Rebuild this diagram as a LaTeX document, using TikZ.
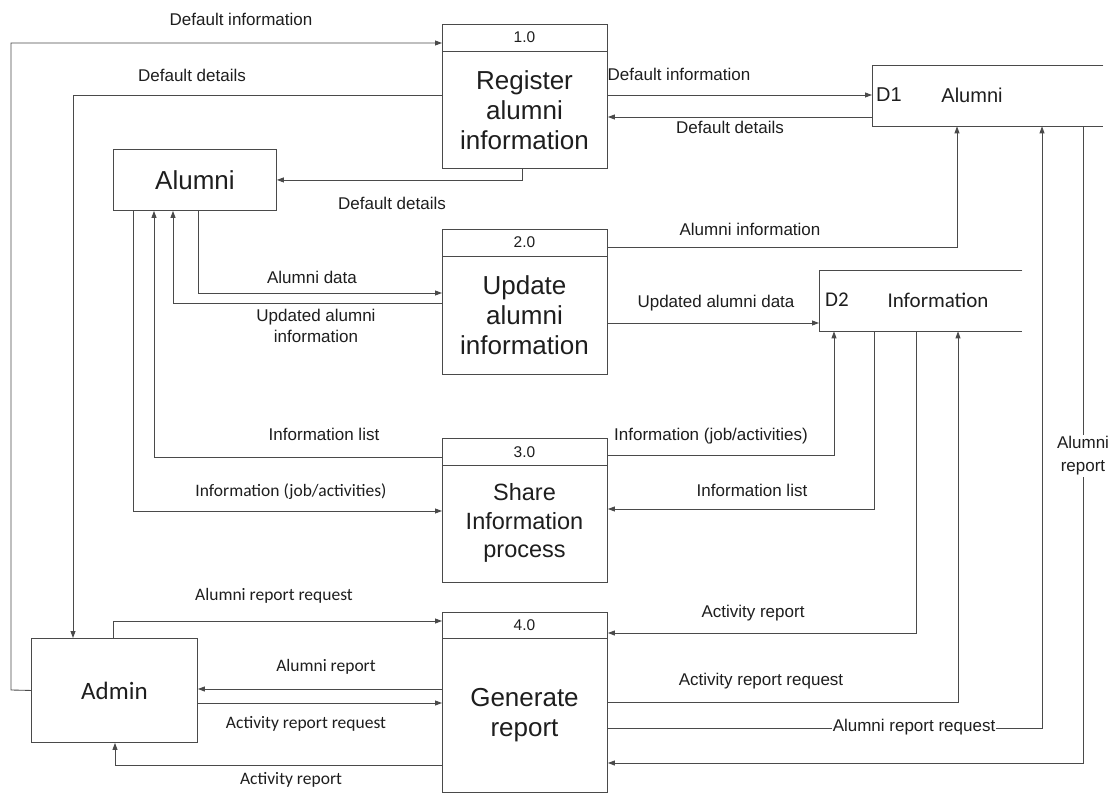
\documentclass[tikz,border=0pt]{standalone}
\usepackage{fontspec}
\setmainfont{Liberation Sans}
\newfontfamily\calfont{Carlito}
\usetikzlibrary{arrows.meta}
\definecolor{lc}{HTML}{4A4A4A}
\definecolor{tc}{HTML}{1E1E1E}
\begin{document}
\begin{tikzpicture}[x=1pt,y=-1pt,
  box/.style={draw=lc, line width=0.9pt, inner sep=0pt, anchor=north west},
  ghost/.style={inner sep=0pt, anchor=north west},
  flow/.style={draw=lc, line width=0.85pt, -{Triangle[length=7pt,width=5pt]}},
  plain/.style={draw=lc, line width=0.85pt},
  lab/.style={font=\fontsize{17}{20}\selectfont, text=tc, inner sep=0pt},
  clab/.style={font=\calfont\fontsize{17.5}{20}\selectfont, text=tc, inner sep=0pt},
  ptxt/.style={font=\fontsize{26}{30}\selectfont, align=center, text=tc, inner sep=0pt},
  num/.style={font=\fontsize{15.5}{18}\selectfont, text=tc, inner sep=0pt},
  store/.style={font=\fontsize{20}{24}\selectfont, text=tc, inner sep=0pt},
  cstore/.style={font=\calfont\fontsize{21}{24}\selectfont, text=tc, inner sep=0pt}]
\useasboundingbox[fill=white] (0,0) rectangle (1113,794);

% ---- processes
\node[box, minimum width=165pt, minimum height=144pt] (p1) at (442,24) {};
\node[box, minimum width=165pt, minimum height=145pt] (p2) at (442,229) {};
\node[box, minimum width=165pt, minimum height=144pt] (p3) at (442,438) {};
\node[box, minimum width=165pt, minimum height=180pt] (p4) at (442,612) {};
\draw[plain] (p1.west |- 0,51) -- (p1.east |- 0,51);
\draw[plain] (p2.west |- 0,256) -- (p2.east |- 0,256);
\draw[plain] (p3.west |- 0,465) -- (p3.east |- 0,465);
\draw[plain] (p4.west |- 0,638) -- (p4.east |- 0,638);
\node[num] (n1) at (524.5,37) {1.0};
\node[num] (n2) at (524.5,242) {2.0};
\node[num] (n3) at (524.5,452) {3.0};
\node[num] (n4) at (524.5,625) {4.0};
\node[ptxt] (t1) at (524.5,110) {Register\\alumni\\information};
\node[ptxt] (t2) at (524.5,315) {Update\\alumni\\information};
\node[ptxt, font=\fontsize{23.5}{28.5}\selectfont] (t3) at (524.5,523) {Share\\Information\\process};
\node[ptxt] (t4) at (524.5,715) {Generate\\report};

% ---- external entities
\node[box, minimum width=163pt, minimum height=61pt] (alumni) at (113,149) {};
\node[font=\fontsize{26}{30}\selectfont, text=tc] (alumnit) at (alumni.center) {Alumni};
\node[box, minimum width=166pt, minimum height=104pt] (admin) at (31,638) {};
\node[font=\calfont\fontsize{25}{28}\selectfont, text=tc] (admint) at (admin.center) {Admin};

% ---- data stores
\node[ghost, minimum width=231pt, minimum height=61pt] (d1) at (872,65) {};
\draw[plain] (d1.north east) -- (d1.north west) -- (d1.south west) -- (d1.south east);
\node[store] (d1a) at (889,95) {D1};
\node[store] (d1b) at (972,95) {Alumni};
\node[ghost, minimum width=203pt, minimum height=61pt] (d2) at (819,270) {};
\draw[plain] (d2.north east) -- (d2.north west) -- (d2.south west) -- (d2.south east);
\node[cstore] (d2a) at (837,300) {D2};
\node[cstore] (d2b) at (938,300) {Information};

% ---- flows around process 1.0
\draw[flow] (admin.west) -- (11,690) |- (p1.west |- 0,43);
\draw[flow] (p1.west |- 0,95) -| (admin.north -| 73,0);
\draw[flow] (p1.south -| 522,0) |- (alumni.east);
\draw[flow] (p1.east |- 0,95) -- (d1.west |- 0,95);
\draw[flow] (d1.west |- 0,117) -- (p1.east |- 0,117);

% ---- flows around process 2.0
\draw[flow] (alumni.south -| 198,0) |- (p2.west |- 0,293);
\draw[flow] (p2.west |- 0,303) -| (alumni.south -| 173,0);
\draw[flow] (p2.east |- 0,247) -| (d1.south -| 957,0);
\draw[flow] (p2.east |- 0,323) -- (d2.west |- 0,323);

% ---- flows around process 3.0
\draw[flow] (p3.west |- 0,457) -| (alumni.south -| 154,0);
\draw[flow] (alumni.south -| 133,0) |- (p3.west |- 0,511);
\draw[flow] (p3.east |- 0,455) -| (d2.south -| 834,0);
\draw[flow] (d2.south -| 874,0) |- (p3.east |- 0,509);

% ---- flows around process 4.0
\draw[flow] (admin.north -| 113,0) |- (p4.west |- 0,621);
\draw[flow] (p4.west |- 0,689) -- (admin.east |- 0,689);
\draw[flow] (admin.east |- 0,703) -- (p4.west |- 0,703);
\draw[flow] (p4.west |- 0,765) -| (admin.south -| 115,0);
\draw[flow] (d2.south -| 916,0) |- (p4.east |- 0,633);
\draw[flow] (p4.east |- 0,702) -| (d2.south -| 958,0);
\draw[flow] (p4.east |- 0,728) -| (d1.south -| 1042,0);
\draw[flow] (d1.south -| 1083,0) |- (p4.east |- 0,763);

% ---- labels
\node[lab] (l1) at (241,19) {Default information};
\node[lab] (l2) at (192,75) {Default details};
\node[lab] (l3) at (392,203) {Default details};
\node[lab] (l4) at (679,74) {Default information};
\node[lab] (l5) at (730,127) {Default details};
\node[lab] (l6) at (312,277) {Alumni data};
\node[lab, align=center, font=\fontsize{17}{20.5}\selectfont] (l7) at (316,326) {Updated alumni\\information};
\node[lab] (l8) at (750,229) {Alumni information};
\node[lab] (l9) at (716,303) {Updated alumni data};
\node[lab] (l10) at (324,434) {Information list};
\node[clab] (l11) at (291,492) {Information (job/activities)};
\node[lab] (l12) at (711,436) {Information (job/activities)};
\node[lab] (l13) at (752,490) {Information list};
\node[clab] (l14) at (274,596) {Alumni report request};
\node[clab] (l15) at (326,667) {Alumni report};
\node[clab] (l16) at (306,724) {Activity report request};
\node[clab] (l17) at (291,780) {Activity report};
\node[lab] (l18) at (753,613) {Activity report};
\node[lab] (l19) at (761,681) {Activity report request};
\node[lab, fill=white, inner xsep=0.5pt, inner ysep=1pt] (l20) at (914,727) {Alumni report request};
\node[lab, fill=white, align=center, inner sep=2pt, font=\fontsize{17}{23}\selectfont] (l21) at (1083,456) {Alumni\\report};
\end{tikzpicture}
\end{document}
